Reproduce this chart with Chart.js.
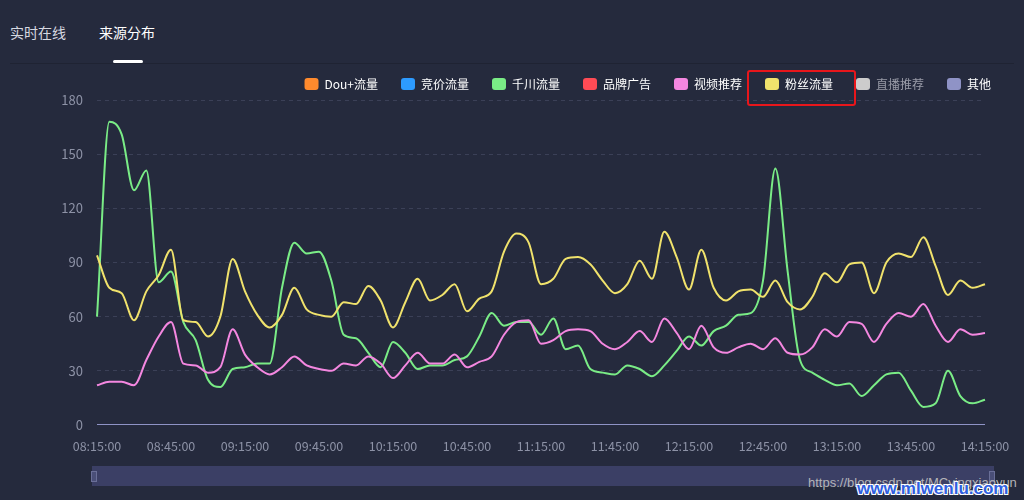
<!DOCTYPE html>
<html>
<head>
<meta charset="utf-8">
<script src="https://cdn.jsdelivr.net/npm/chart.js@4.4.0/dist/chart.umd.min.js"></script>
<style>
    body { margin: 0; width: 1024px; height: 500px; overflow: hidden; position: relative;
           background: #252a3d; font-family: "Noto Sans CJK SC", "Noto Sans", sans-serif; }
    .tab { position: absolute; top: 22px; font-size: 14px; line-height: 20px; color: #d6d8e0; }
    .tab.active { color: #fff; }
    .tab-bar { position: absolute; left: 113px; top: 60px; width: 30px; height: 3px; background: #fff; border-radius: 2px; }
    .divider { position: absolute; left: 10px; right: 10px; top: 63px; height: 1px; background: #1f2333; }
    .wrap { position: absolute; left: 0; top: 55px; width: 1024px; height: 399px; }
    .slider { position: absolute; left: 92px; top: 466px; width: 902px; height: 20px; background: #3b3f65; }
    .handle { position: absolute; top: 471px; width: 4px; height: 9px; background: #4a4f78; border: 1px solid #6a6f98; }
    .mark { position: absolute; left: 747px; top: 70px; width: 109px; height: 36px; box-sizing: border-box;
            border: 2px solid #e8161b; border-radius: 3px; }
    .url { position: absolute; left: 808px; top: 475px; font: 13px "Liberation Sans", Arial, sans-serif; color: #b4b4b8; }
    .wm { position: absolute; left: 857px; top: 479px; font: bold 17px "Liberation Sans", Arial, sans-serif; color: #2f5fe0;
          text-shadow: -1px -1px 0 #fff, 1px -1px 0 #fff, -1px 1px 0 #fff, 1px 1px 0 #fff; }
</style>
</head>
<body>
<div class="tab" style="left:10px">实时在线</div>
<div class="tab active" style="left:99px">来源分布</div>
<div class="divider"></div>
<div class="tab-bar"></div>
<div class="wrap"><canvas id="sourceChart"></canvas></div>
<div class="slider"></div>
<div class="handle" style="left:91px"></div>
<div class="handle" style="left:989px"></div>
<div class="mark"></div>
<div class="url">https://blog.csdn.net/MCyingxiaoyun</div>
<div class="wm">www.mlwenlu.com</div>

<script>
// 08:15:00 - 14:15:00, every 5 minutes
const times = [];
for (let m = 8 * 60 + 15; m <= 14 * 60 + 15; m += 5) {
    times.push(`${String(Math.floor(m / 60)).padStart(2, '0')}:${String(m % 60).padStart(2, '0')}:00`);
}

const seriesNames = ['Dou+流量', '竞价流量', '千川流量', '品牌广告', '视频推荐', '粉丝流量', '直播推荐', '其他'];
const seriesColors = ['#ff8a2d', '#2d9bff', '#7aec86', '#ff4b55', '#f487e0', '#f0e26c', '#cccccc', '#8f93c6'];

const douPlus = new Array(73).fill(0);
const bidding = new Array(73).fill(0);
const brandAds = new Array(73).fill(0);
const liveRec = new Array(73).fill(0);
const others = new Array(73).fill(0);

const qianchuan = [60, 168, 161, 130, 141, 79, 85, 57, 47, 25,
    21, 31, 32, 34, 34, 76, 101, 95, 96, 80,
    50, 48, 40, 32, 46, 40, 31, 33, 33, 36,
    38, 49, 62, 55, 57, 57, 50, 59, 42, 44,
    31, 29, 28, 33, 31, 27, 33, 41, 49, 44,
    52, 55, 61, 62, 80, 142, 85, 36, 29, 25,
    22, 23, 16, 22, 28, 29, 19, 10, 12, 30,
    16, 12, 14];

const videoRec = [22, 24, 24, 22, 36, 49, 57, 34, 33, 29,
    32, 53, 39, 32, 28, 32, 38, 33, 31, 30,
    34, 33, 38, 34, 26, 33, 40, 34, 34, 39,
    32, 35, 38, 50, 57, 58, 45, 47, 52, 53,
    52, 45, 42, 46, 52, 46, 59, 51, 42, 55,
    43, 40, 43, 45, 42, 48, 40, 39, 43, 53,
    49, 57, 56, 46, 56, 62, 60, 67, 55, 46,
    53, 50, 51];

const fans = [94, 76, 73, 58, 74, 83, 97, 58, 57, 49,
    60, 92, 74, 61, 54, 61, 76, 64, 61, 60,
    68, 67, 77, 69, 54, 68, 81, 69, 72, 78,
    63, 70, 74, 96, 106, 101, 78, 81, 92, 93,
    89, 80, 73, 78, 91, 81, 107, 93, 75, 97,
    76, 69, 74, 75, 71, 80, 68, 64, 71, 84,
    79, 89, 90, 73, 90, 95, 93, 104, 88, 72,
    80, 76, 78];

const yTicks = [0, 30, 60, 90, 120, 150, 180];

const seriesData = [douPlus, bidding, qianchuan, brandAds, videoRec, fans, liveRec, others];

const font = 'Noto Sans CJK SC';

const ctx = document.getElementById('sourceChart').getContext('2d');
new Chart(ctx, {
    type: 'line',
    data: {
        labels: times,
        datasets: seriesNames.map((name, i) => ({
            label: name,
            data: seriesData[i],
            borderColor: seriesColors[i],
            backgroundColor: seriesColors[i],
            borderWidth: 2,
            pointRadius: 0,
            cubicInterpolationMode: 'monotone',
            hidden: name === '直播推荐',
            order: -i
        }))
    },
    options: {
        responsive: true,
        maintainAspectRatio: false,
        animation: false,
        layout: { padding: { top: 0, right: 10, left: 0, bottom: 0 } },
        scales: {
            x: {
                grid: { display: false },
                border: { display: false },
                ticks: {
                    autoSkip: false,
                    maxRotation: 0,
                    padding: 6,
                    color: '#8d92a6',
                    font: { family: font, size: 12.5 },
                    callback: (v, i) => (i % 6 === 0 ? times[i] : '')
                },
                afterFit: s => { s.height = 29; s.paddingLeft = 0; s.paddingRight = 39; }
            },
            y: {
                min: 0,
                max: 180,
                afterBuildTicks: s => { s.ticks = yTicks.map(v => ({ value: v })); },
                grid: {
                    color: c => (c.tick.value === 0 ? 'rgba(0,0,0,0)' : '#3b4057'),
                    drawTicks: false
                },
                border: { display: false, dash: [4, 4] },
                ticks: { padding: 14, color: '#8d92a6', font: { family: font, size: 13 } },
                afterFit: s => { s.width = 97; }
            }
        },
        plugins: {
            tooltip: { enabled: false },
            legend: {
                position: 'top',
                align: 'end',
                labels: {
                    padding: 23,
                    boxWidth: 14,
                    boxHeight: 12,
                    useBorderRadius: true,
                    borderRadius: 3,
                    color: '#ffffff',
                    font: { family: font, size: 12 },
                    sort: (a, b) => a.datasetIndex - b.datasetIndex,
                    generateLabels: chart => {
                        const items = Chart.defaults.plugins.legend.labels.generateLabels(chart);
                        items.forEach(it => {
                            it.lineWidth = 0;
                            if (it.hidden) {
                                it.hidden = false;
                                it.fontColor = '#9a9ca8';
                                it.fillStyle = '#cccccc';
                            }
                        });
                        return items;
                    }
                }
            }
        }
    }
});
</script>
</body>
</html>
